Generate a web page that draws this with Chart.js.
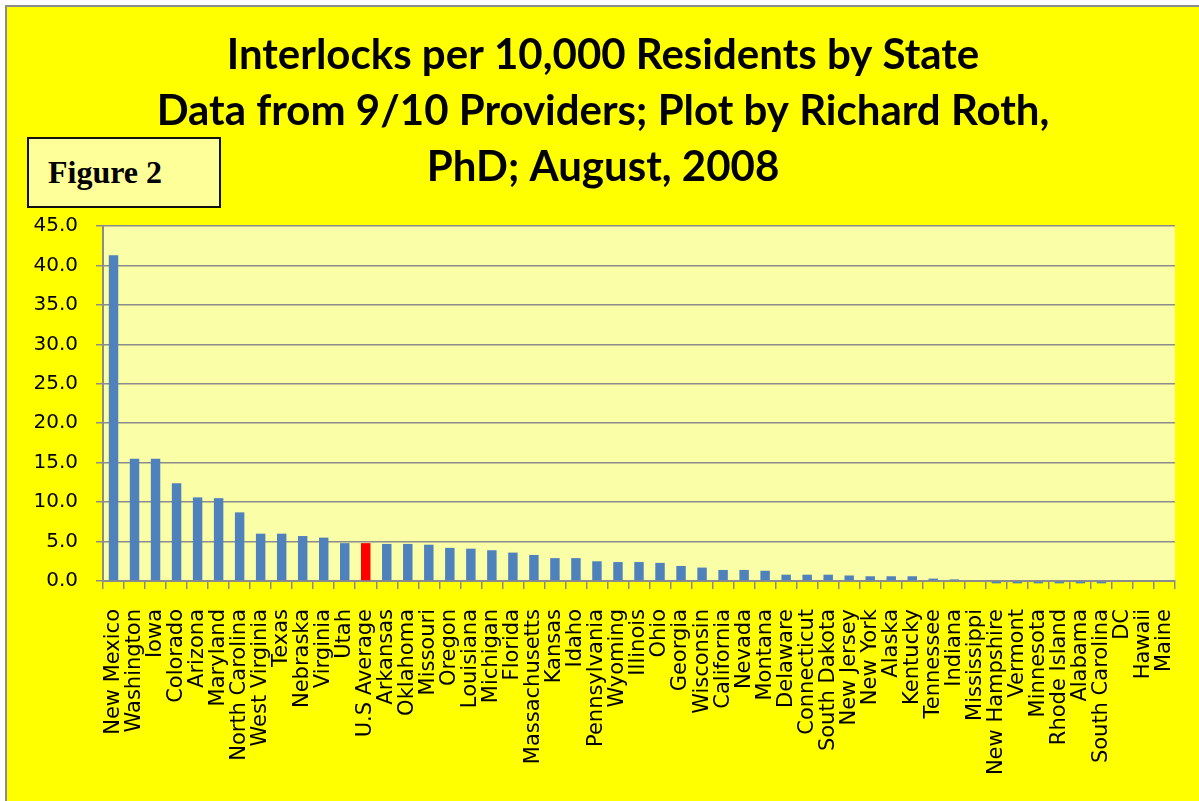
<!DOCTYPE html>
<html>
<head>
<meta charset="utf-8">
<script src="https://cdn.jsdelivr.net/npm/chart.js@4.4.1/dist/chart.umd.min.js"></script>
<style>
  html, body { margin: 0; padding: 0; background: #fff; }
  #frame {
    position: absolute; left: 5px; top: 5px; width: 1194px; height: 796px;
    border-top: 2px solid #8c8c8c; border-left: 2px solid #8c8c8c;
    background: #ffff00;
  }
  #chart { position: absolute; left: 0; top: 0; }
  #fig {
    position: absolute; left: 20px; top: 130px; width: 171px; height: 67px;
    border: 2px solid #111; background: #ffff99;
    font-family: "Liberation Serif", serif; font-weight: bold; font-size: 32px;
    line-height: 67px; padding-left: 19px;
  }
</style>
</head>
<body>
<div id="frame">
  <canvas id="chart" width="1192" height="794"></canvas>
  <div id="fig">Figure 2</div>
</div>
<script>
const states = ['New Mexico', 'Washington', 'Iowa', 'Colorado', 'Arizona', 'Maryland', 'North Carolina',
    'West Virginia', 'Texas', 'Nebraska', 'Virginia', 'Utah', 'U.S Average', 'Arkansas', 'Oklahoma',
    'Missouri', 'Oregon', 'Louisiana', 'Michigan', 'Florida', 'Massachusetts', 'Kansas', 'Idaho',
    'Pennsylvania', 'Wyoming', 'Illinois', 'Ohio', 'Georgia', 'Wisconsin', 'California', 'Nevada',
    'Montana', 'Delaware', 'Connecticut', 'South Dakota', 'New Jersey', 'New York', 'Alaska', 'Kentucky',
    'Tennessee', 'Indiana', 'Mississippi', 'New Hampshire', 'Vermont', 'Minnesota', 'Rhode Island',
    'Alabama', 'South Carolina', 'DC', 'Hawaii', 'Maine'];
const interlocks = [41.3, 15.5, 15.5, 12.4, 10.6, 10.5, 8.7,
    6.0, 6.0, 5.7, 5.5, 4.8, 4.8, 4.7, 4.7,
    4.6, 4.2, 4.1, 3.9, 3.6, 3.3, 2.9, 2.9,
    2.5, 2.4, 2.4, 2.3, 1.9, 1.7, 1.4, 1.4,
    1.3, 0.8, 0.8, 0.8, 0.7, 0.6, 0.6, 0.6,
    0.3, 0.2, 0.0, -0.3, -0.3, -0.3, -0.3,
    -0.3, -0.3, 0.0, 0.0, 0.0];
const averageLabel = 'U.S Average';
const titleLines = ['Interlocks per 10,000 Residents by State',
    'Data from 9/10 Providers; Plot by Richard Roth,',
    'PhD; August, 2008'];

const barColors = states.map(s => s === averageLabel ? '#ff0000' : '#4f81bd');

// pale plot area background
const plotBg = {
    id: 'plotBg',
    beforeDraw(chart) {
        const a = chart.chartArea, ctx = chart.ctx;
        ctx.save();
        ctx.fillStyle = '#fafea6';
        ctx.fillRect(a.left, a.top, a.right - a.left, a.bottom - a.top);
        ctx.restore();
    }
};

new Chart(document.getElementById('chart'), {
    type: 'bar',
    data: {
        labels: states,
        datasets: [{
            data: interlocks,
            backgroundColor: barColors,
            barPercentage: 0.45,
            categoryPercentage: 1,
            clip: false
        }]
    },
    options: {
        responsive: false,
        animation: false,
        layout: { padding: { left: 24, right: 24, top: 0, bottom: 0 } },
        plugins: {
            legend: { display: false },
            tooltip: { enabled: false },
            title: {
                display: true,
                text: titleLines,
                color: '#000',
                font: { family: 'Lato', weight: 'bold', size: 42, lineHeight: 56 / 42 },
                padding: { top: 20, bottom: 31 }
            }
        },
        scales: {
            x: {
                grid: { display: true, drawOnChartArea: false, color: '#8c8c8c', lineWidth: 1.5, tickLength: 8 },
                border: { color: '#8c8c8c', width: 2 },
                ticks: {
                    autoSkip: false, minRotation: 90, maxRotation: 90, padding: 20,
                    color: '#000', font: { family: 'DejaVu Sans', size: 21 }
                },
                afterFit(s) {
                    s.height = 220;
                    s.paddingLeft = 0;
                    s.paddingRight = 0;
                }
            },
            y: {
                min: 0, max: 45,
                grid: { color: '#8c8c8c', lineWidth: 1.5, tickLength: 7 },
                border: { color: '#8c8c8c', width: 2 },
                ticks: {
                    stepSize: 5, padding: 18, color: '#000',
                    font: { family: 'DejaVu Sans', size: 20 },
                    callback: v => v.toFixed(1)
                },
                afterFit(s) { s.width = 72; }
            }
        }
    },
    plugins: [plotBg]
});
</script>
</body>
</html>
